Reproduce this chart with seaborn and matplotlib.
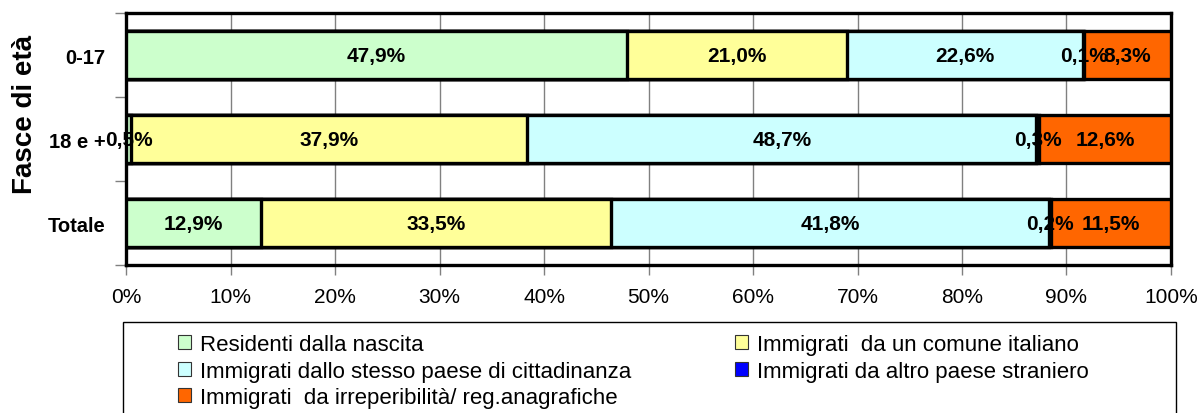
import numpy as np
import pandas as pd
import seaborn as sns
import matplotlib.pyplot as plt
from matplotlib.patches import Rectangle, Patch

# data
fasce = ['0-17', '18 e +', 'Totale']
series = ['Residenti dalla nascita',
          'Immigrati  da un comune italiano',
          'Immigrati dallo stesso paese di cittadinanza',
          'Immigrati da altro paese straniero',
          'Immigrati  da irreperibilità/ reg.anagrafiche']
residenti = [47.9, 0.5, 12.9]
comune_it = [21.0, 37.9, 33.5]
stesso_paese = [22.6, 48.7, 41.8]
altro_paese = [0.1, 0.3, 0.2]
irreperibili = [8.3, 12.6, 11.5]
colori = ['#CCFFCC', '#FFFF99', '#CCFFFF', '#0000FF', '#FF6600']

sns.set_style('white')
plt.rcParams['font.family'] = ['Liberation Sans', 'DejaVu Sans']
plt.rcParams['text.color'] = 'black'
plt.rcParams['xtick.color'] = '#808080'
plt.rcParams['ytick.color'] = '#808080'
plt.rcParams['xtick.labelcolor'] = 'black'
plt.rcParams['ytick.labelcolor'] = 'black'
plt.rcParams['axes.labelcolor'] = 'black'

vals = np.array([residenti, comune_it, stesso_paese, altro_paese, irreperibili])
# normalise to 100% (as the chart does)
vals = vals / vals.sum(axis=0) * 100
cum = vals.cumsum(axis=0)

fig = plt.figure(figsize=(12.01, 4.14), dpi=100)
ax = fig.add_axes([0.105, 0.357, 0.870, 0.609])

# stacked bars: draw cumulative totals from the last series to the first
for i in range(len(series) - 1, -1, -1):
    df = pd.DataFrame({'fascia': fasce, 'v': cum[i]})
    sns.barplot(data=df, x='v', y='fascia', orient='h', color=colori[i],
                width=0.57, edgecolor='black', linewidth=2.4, ax=ax,
                saturation=1, zorder=3)

# labels in the middle of every segment
orig = [residenti, comune_it, stesso_paese, altro_paese, irreperibili]
for i in range(len(series)):
    for j in range(len(fasce)):
        centro = cum[i][j] - vals[i][j] / 2
        txt = f'{orig[i][j]:.1f}%'.replace('.', ',')
        ax.text(centro, j, txt, ha='center', va='center',
                fontsize=15, fontweight='bold', zorder=5)

ax.set_xlim(0, 100)
ax.set_ylim(2.5, -0.5)
ax.set_xticks(np.arange(0, 101, 10))
ax.set_xticklabels([f'{x}%' for x in range(0, 101, 10)], fontsize=15)
ax.xaxis.grid(True, color='#808080', linewidth=1, zorder=0)
ax.set_axisbelow(True)
ax.tick_params(axis='x', direction='out', length=7, width=1,
               bottom=True, pad=9)
ax.set_yticks([0, 1, 2])
ax.set_yticklabels(fasce, fontsize=14.5, fontweight='bold')
ax.tick_params(axis='y', length=0, pad=15)
ax.set_yticks([-0.5, 0.5, 1.5, 2.5], minor=True)
ax.tick_params(axis='y', which='minor', direction='out', length=8,
               width=1, left=True)
ax.set_xlabel('')
ax.set_ylabel('Fasce di età', fontsize=20, fontweight='bold')
ax.yaxis.set_label_coords(-0.084, 0.6)
for sp in ax.spines.values():
    sp.set_visible(True)
    sp.set_color('black')
    sp.set_linewidth(2.4)

# legend box running past the bottom of the figure
fig.patches.append(Rectangle((123 / 1201, -0.2), (1176 - 123) / 1201,
                             0.2 + (414 - 323) / 414,
                             transform=fig.transFigure, facecolor='white',
                             edgecolor='black', linewidth=1))
ordine = [0, 2, 4, 1, 3]
handles = [Patch(facecolor=colori[k], edgecolor='#333333', linewidth=0.8)
           for k in ordine]
fig.legend(handles, [series[k] for k in ordine], ncol=2, frameon=False,
           loc='upper left', bbox_to_anchor=(178 / 1201, 1 - 335 / 414),
           fontsize=16, handlelength=0.6, handleheight=0.6,
           handletextpad=0.4, columnspacing=4.65, labelspacing=0.25,
           borderpad=0, borderaxespad=0)

fig.savefig('out.png', dpi=100)
